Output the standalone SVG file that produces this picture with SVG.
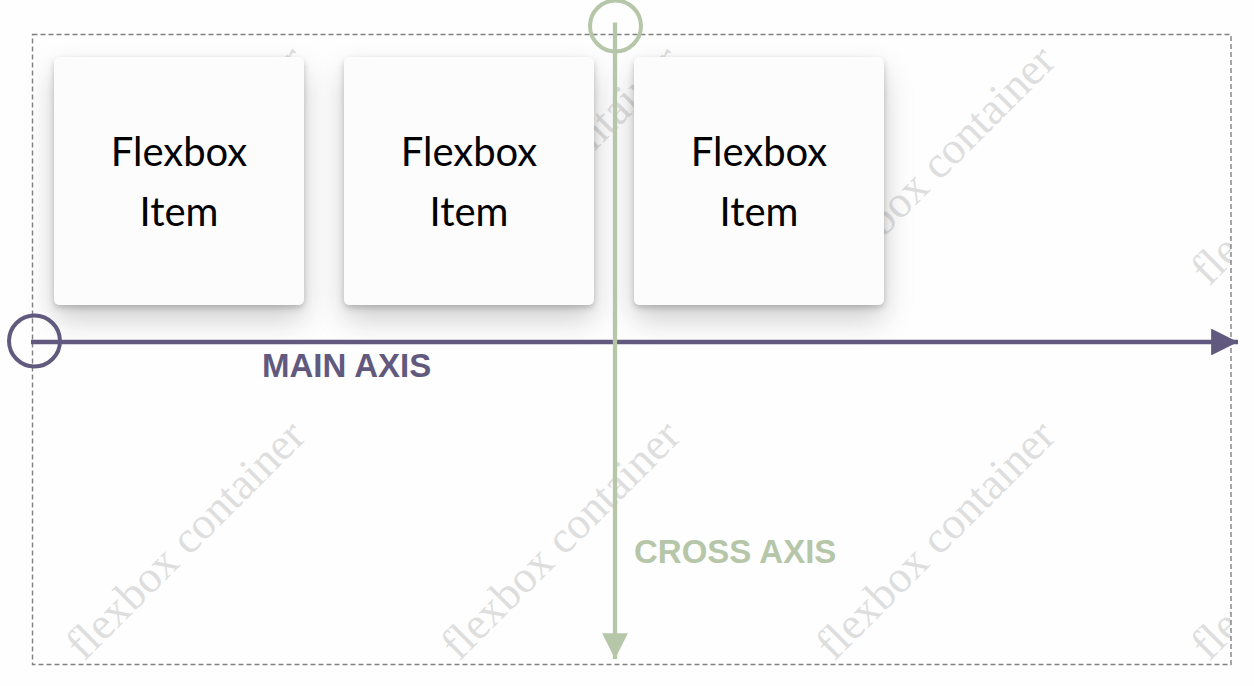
<svg xmlns="http://www.w3.org/2000/svg" width="1254" height="686" viewBox="0 0 1254 686">
  <defs>
    <style>
      .item-box { fill: #fcfcfc; filter: url(#shadow); }
      .item-text { font-family: Lato, "Liberation Sans", sans-serif; font-size: 40px; fill: #000; text-anchor: middle; }
      .wm { font-family: "Liberation Serif", serif; font-size: 45px; fill: #dedede; }
      .axis-label { font-family: "Liberation Sans", Arial, sans-serif; font-weight: bold; font-size: 33px; }
    </style>
    <filter id="shadow" x="-30%" y="-30%" width="160%" height="170%">
      <feDropShadow dx="0" dy="14" stdDeviation="15" flood-color="#000" flood-opacity="0.16"/>
      <feDropShadow dx="0" dy="3" stdDeviation="3" flood-color="#000" flood-opacity="0.22"/>
    </filter>
    <clipPath id="container-clip">
      <rect x="33" y="35" width="1198" height="630"/>
    </clipPath>
    <marker id="arrow-main" viewBox="0 0 10 10" refX="10" refY="5" markerWidth="6.25" markerHeight="6.25" markerUnits="strokeWidth" orient="auto">
      <path d="M0,0 L10,5 L0,10 z" fill="#615a7e"/>
    </marker>
    <marker id="arrow-cross" viewBox="0 0 10 10" refX="10" refY="5" markerWidth="6" markerHeight="6" markerUnits="strokeWidth" orient="auto">
      <path d="M0,0 L10,5 L0,10 z" fill="#b6c6a8"/>
    </marker>
  </defs>

  <rect x="0" y="0" width="1254" height="686" fill="#fefefe"/>

  <g id="watermarks" clip-path="url(#container-clip)">
    <text class="wm" transform="translate(84,287) rotate(-45)">flexbox container</text>
    <text class="wm" transform="translate(459,287) rotate(-45)">flexbox container</text>
    <text class="wm" transform="translate(834,287) rotate(-45)">flexbox container</text>
    <text class="wm" transform="translate(1209,287) rotate(-45)">flexbox container</text>
    <text class="wm" transform="translate(84,662) rotate(-45)">flexbox container</text>
    <text class="wm" transform="translate(459,662) rotate(-45)">flexbox container</text>
    <text class="wm" transform="translate(834,662) rotate(-45)">flexbox container</text>
    <text class="wm" transform="translate(1209,662) rotate(-45)">flexbox container</text>
  </g>

  <g id="container">
    <rect x="32.5" y="34.5" width="1198.5" height="630" fill="none" stroke="#808080" stroke-width="1.4" stroke-dasharray="5 3"/>
  </g>

  <g id="item-1">
    <rect class="item-box" x="54" y="57" width="250" height="248" rx="6"/>
    <text class="item-text" x="179" y="166">Flexbox</text>
    <text class="item-text" x="179" y="226">Item</text>
  </g>
  <g id="item-2">
    <rect class="item-box" x="344" y="57" width="250" height="248" rx="6"/>
    <text class="item-text" x="469" y="166">Flexbox</text>
    <text class="item-text" x="469" y="226">Item</text>
  </g>
  <g id="item-3">
    <rect class="item-box" x="634" y="57" width="250" height="248" rx="6"/>
    <text class="item-text" x="759" y="166">Flexbox</text>
    <text class="item-text" x="759" y="226">Item</text>
  </g>

  <g id="connectors">
    <g id="main-axis">
      <circle cx="34.5" cy="341" r="25.5" fill="none" stroke="#615a7e" stroke-width="4"/>
      <line x1="31" y1="342" x2="1238" y2="342" stroke="#615a7e" stroke-width="4.3" marker-end="url(#arrow-main)"/>
      <text class="axis-label" x="262" y="377" fill="#615a7e">MAIN AXIS</text>
    </g>
    <g id="cross-axis">
      <circle cx="615.5" cy="26" r="25.5" fill="none" stroke="#b6c6a8" stroke-width="4"/>
      <line x1="615" y1="22.5" x2="615" y2="659" stroke="#b6c6a8" stroke-width="4.3" marker-end="url(#arrow-cross)"/>
      <text class="axis-label" x="634" y="563" fill="#b6c6a8">CROSS AXIS</text>
    </g>
  </g>
</svg>
